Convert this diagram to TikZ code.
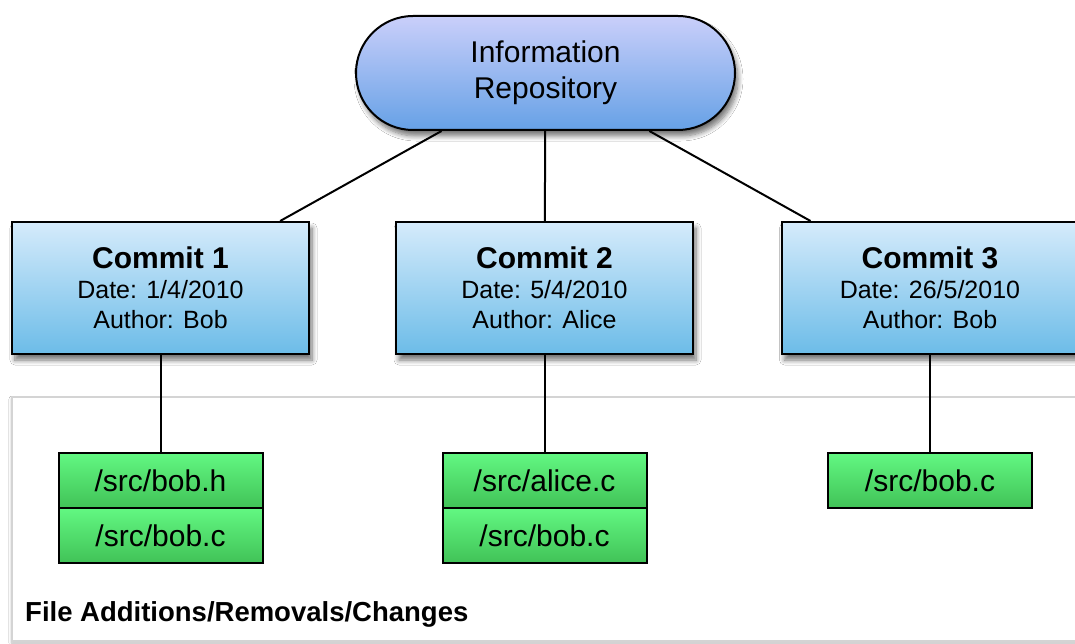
\documentclass[tikz,border=0pt]{standalone}
\usepackage{fontspec}
\setmainfont{Liberation Sans}
\usetikzlibrary{shapes.misc,shadows.blur}
\definecolor{repotop}{HTML}{CACFFA}
\definecolor{repobot}{HTML}{66A1E6}
\definecolor{comtop}{HTML}{D5EBFB}
\definecolor{combot}{HTML}{6CBCE8}
\definecolor{filetop}{HTML}{62F882}
\definecolor{filebot}{HTML}{41C257}
\definecolor{panelline}{HTML}{D4D4D4}
\begin{document}
\begin{tikzpicture}[x=1pt,y=-1pt,
  box/.style={draw=black, line width=2pt, inner sep=0pt},
  shad/.style={blur shadow={shadow xshift=3pt, shadow yshift=-6pt, shadow blur steps=8, shadow blur radius=5pt, shadow opacity=55}},
  repo/.style={box, shad, rounded rectangle, minimum width=379pt, minimum height=114pt,
    top color=repotop, bottom color=repobot, align=center, font=\fontsize{30}{36}\selectfont},
  commit/.style={box, shad, rectangle, minimum width=297pt, minimum height=132pt,
    top color=comtop, bottom color=combot, align=center, font=\fontsize{25}{30}\selectfont},
  file/.style={box, rectangle, minimum width=204pt, minimum height=55pt,
    top color=filetop, bottom color=filebot, font=\fontsize{30}{34}\selectfont},
  panel/.style={draw=panelline, line width=2.2pt, fill=white, rectangle, inner sep=0pt,
    blur shadow={shadow xshift=0pt, shadow yshift=-2pt, shadow blur steps=6, shadow blur radius=3pt, shadow opacity=30}},
  conn/.style={draw=black, line width=2pt}
]
\useasboundingbox (0,0) rectangle (1075,644);
\fill[white] (0,0) rectangle (1075,644);

% panel
\node[panel, minimum width=1078pt, minimum height=244pt] (panel) at (551,519) {};
\node[anchor=base west, font=\fontsize{27.5}{30}\selectfont\bfseries, inner sep=0pt] (plabel) at (25,621) {File Additions/Removals/Changes};

% nodes
\node[repo] (repo) at (545.5,73) {Information\\Repository};
\node[commit] (c1) at (160.5,288) {{\fontsize{30}{34}\selectfont\bfseries Commit 1}\\Date: 1/4/2010\\Author: Bob};
\node[commit] (c2) at (544.5,288) {{\fontsize{30}{34}\selectfont\bfseries Commit 2}\\Date: 5/4/2010\\Author: Alice};
\node[commit] (c3) at (930,288) {{\fontsize{30}{34}\selectfont\bfseries Commit 3}\\Date: 26/5/2010\\Author: Bob};

\node[file] (f1a) at (160.5,480.5) {/src/bob.h};
\node[file] (f1b) at (160.5,535.5) {/src/bob.c};
\node[file] (f2a) at (544.5,480.5) {/src/alice.c};
\node[file] (f2b) at (544.5,535.5) {/src/bob.c};
\node[file] (f3a) at (930,480.5) {/src/bob.c};

% connectors
\draw[conn] (repo) -- (c1);
\draw[conn] (repo) -- (c2);
\draw[conn] (repo) -- (c3);
\draw[conn] (c1) -- (f1a);
\draw[conn] (c2) -- (f2a);
\draw[conn] (c3) -- (f3a);
\end{tikzpicture}
\end{document}
